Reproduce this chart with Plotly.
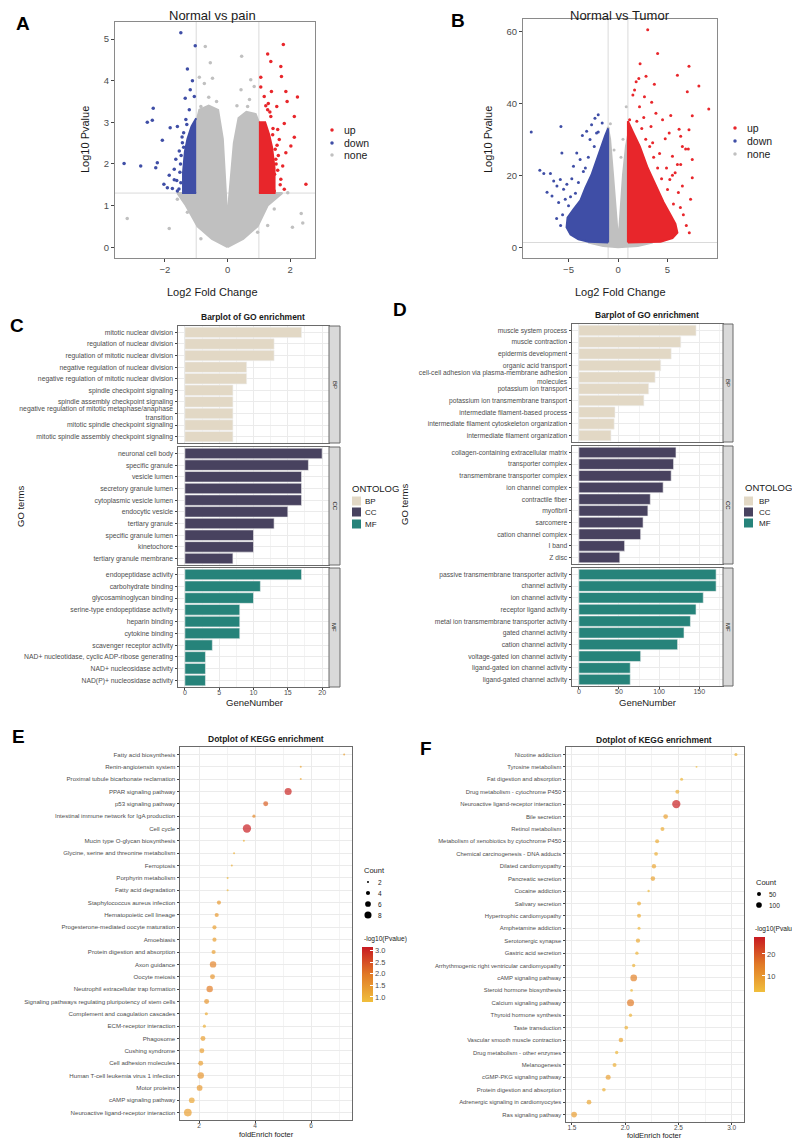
import plotly.graph_objects as go

# page is drawn inside the default 8px body margin, so the figure is 792x1132
# and every position below is given in page pixels
PAD = 8
W, H = 800 - PAD, 1140 - PAD
FONT = "Liberation Sans, Arial, sans-serif"
RED, BLUE, GREY = "#E8262B", "#3F4EA6", "#C0C0C0"
BP_COL, CC_COL, MF_COL = "#E2D8C5", "#48425F", "#26837A"
TICK = "#4D4D4D"
DARK = "#1A1A1A"
SCALE = [[0, "#F0BE3C"], [0.5, "#E17A26"], [1, "#C81A22"]]

# ---------------- panel A : Normal vs pain ----------------
a_none_poly_x = [0, -0.5, -0.96, -1.33, -1.6, -1.0, -1.0, -0.9, -0.6, -0.3, -0.15, -0.05, 0,
                 0.05, 0.2, 0.35, 0.6, 0.9, 1.0, 1.0, 1.75, 1.28, 0.96, 0.5, 0]
a_none_poly_y = [0, 0.2, 0.5, 1.0, 1.3, 1.3, 3.0, 3.3, 3.4, 3.3, 2.6, 1.2, 0.6,
                 1.2, 2.5, 3.1, 3.25, 3.2, 3.0, 1.3, 1.3, 1.0, 0.5, 0.2, 0]
a_up_poly_x = [1.0, 1.5, 1.5, 1.42, 1.33, 1.2, 1.0]
a_up_poly_y = [1.3, 1.3, 1.9, 2.4, 2.7, 3.0, 3.0]
a_down_poly_x = [-1.0, -1.42, -1.42, -1.36, -1.28, -1.15, -1.0]
a_down_poly_y = [1.3, 1.3, 1.8, 2.3, 2.6, 2.9, 3.1]
a_up_x = [1.78, 1.28, 1.38, 1.70, 1.72, 1.06, 1.06, 1.40, 1.86, 2.23, 1.90, 1.57, 1.17, 2.13, 1.81, 1.60,
          2.13, 2.02, 1.65, 1.86, 1.76, 2.50, 1.70, 1.81, 1.49, 1.38, 1.28, 1.54, 1.45, 1.30, 1.62, 1.50,
          1.35, 1.68, 1.22, 1.58, 1.55, 1.60, 1.52, 1.44]
a_up_y = [4.87, 4.64, 4.46, 4.34, 4.10, 4.08, 3.85, 3.74, 3.74, 3.61, 3.50, 3.38, 3.62, 3.14, 2.97, 2.83,
          2.64, 2.43, 2.59, 2.27, 1.95, 1.51, 1.63, 1.39, 1.35, 3.14, 3.30, 2.11, 2.85, 3.45, 2.20, 1.75,
          3.25, 1.50, 3.40, 2.45, 2.00, 1.85, 2.35, 2.70]
a_down_x = [-1.49, -1.03, -1.28, -1.12, -1.19, -1.35, -1.06, -2.37, -2.40, -2.56, -1.83, -1.60, -2.08, -2.24,
            -2.77, -3.30, -2.29, -2.03, -1.92, -1.76, -1.86, -1.70, -1.65, -1.54, -1.44, -1.40, -1.33, -1.49,
            -1.60, -1.22, -1.50, -1.55, -1.62, -1.45, -1.30, -1.70, -1.48, -1.52, -1.40]
a_down_y = [5.15, 4.84, 4.28, 4.00, 3.78, 3.58, 3.62, 3.34, 3.05, 3.00, 2.87, 2.90, 2.57, 2.03,
            1.95, 2.01, 1.91, 1.51, 1.43, 1.41, 1.73, 1.87, 2.11, 2.31, 2.51, 2.75, 3.07, 1.55,
            1.35, 3.30, 2.00, 1.40, 1.60, 2.65, 2.95, 1.62, 2.20, 1.80, 2.40]
a_none_x = [-0.71, -0.55, -0.90, -0.48, -0.74, 0.45, 0.74, 0.43, 0.85, -3.20, -1.86, 2.07, 2.35, 2.40, 1.92,
            1.28, -1.60, -0.85, 0.64, -0.85, 0.96, -1.28, 1.49, -0.60, 0.70, -0.35, 0.30]
a_none_y = [4.82, 4.43, 4.08, 4.06, 3.93, 4.59, 4.02, 3.78, 3.86, 0.69, 0.45, 0.48, 0.81, 0.58, 1.31,
            0.52, 1.15, 3.38, 3.38, 0.20, 0.36, 0.84, 0.92, 3.60, 3.55, 3.50, 3.40]

# ---------------- panel B : Normal vs Tumor ----------------
b_none_poly_x = [-3.0, -1.0, -1.0, -0.8, -0.5, -0.25, -0.08, 0, 0.08, 0.25, 0.5, 0.8, 1.0, 1.0, 3.5, 2.0, 0, -1.5, -3.0]
b_none_poly_y = [1.3, 1.3, 33, 30, 20, 10, 3, 2.5, 3, 10, 20, 28, 31, 1.3, 1.3, 0.3, 0, 0.3, 1.3]
b_up_poly_x = [1.0, 1.0, 1.5, 2.2, 3.0, 3.8, 4.6, 5.3, 5.8, 6.0, 5.5, 4.3, 1.0]
b_up_poly_y = [1.3, 35, 32, 28, 22, 17, 12.5, 9, 6.5, 4, 2.5, 1.5, 1.3]
b_down_poly_x = [-1.0, -1.0, -1.3, -1.7, -2.2, -2.7, -3.3, -3.8, -4.5, -5.1, -5.2, -4.8, -4.0, -3.0, -1.0]
b_down_poly_y = [1.3, 33, 31, 28, 24, 20, 16.5, 13, 10.5, 8.2, 5.5, 3.5, 2.2, 1.5, 1.3]
b_up_x = [3.0, 4.0, 2.23, 7.17, 6.0, 2.83, 2.1, 1.83, 3.67, 8.17, 1.67, 7.0, 1.5, 2.67, 3.4, 9.17, 3.83,
          7.5, 5.33, 4.5, 3.33, 6.17, 7.17, 5.17, 6.33, 2.17, 1.17, 6.83, 7.1, 6.5, 5.5, 7.5, 6.0, 6.33,
          4.77, 7.5, 5.77, 6.5, 7.33, 6.1, 5.23, 4.0, 3.6, 2.8, 4.4, 5.0, 5.6, 6.6, 6.9, 7.2, 2.4, 1.9, 3.2,
          4.2, 3.5, 5.5, 6.3, 4.9, 2.6]
b_up_y = [60.4, 53.8, 51.0, 50.3, 47.8, 47.5, 46.9, 46.0, 45.3, 44.8, 43.7, 43.2, 42.3, 41.8, 40.3, 38.4, 37.2,
          36.5, 36.6, 35.4, 33.5, 32.8, 32.6, 31.7, 30.8, 39.0, 35.4, 27.3, 27.3, 28.0, 25.3, 24.4, 23.0, 23.0,
          30.1, 19.3, 20.7, 17.0, 13.3, 15.2, 18.8, 22, 25, 30, 19, 16, 12, 9, 6, 4, 33, 35, 28,
          26, 29, 20, 11, 22, 36]
b_down_x = [-8.77, -5.77, -5.67, -7.9, -7.5, -6.83, -6.5, -5.83, -7.17, -6.67, -6.17, -5.5, -5.17, -4.67,
            -2.0, -2.33, -2.67, -3.6, -3.17, -2.83, -2.17, -3.83, -4.5, -4.17, -6.0, -5.33, -5.0,
            -3.0, -3.5, -4.0, -4.8, -5.6, -5.8, -2.4, -1.6, -6.2, -3.3, -4.3, -2.0]
b_down_y = [32.0, 33.5, 26.2, 21.4, 20.5, 20.5, 18.4, 18.8, 15.3, 14.2, 17.0, 16.1, 17.5, 19.0,
            36.8, 35.8, 34.0, 31.0, 32.2, 29.9, 31.7, 24.4, 22.5, 26.2, 12.4, 13.3, 11.5,
            25, 21, 18, 14, 9, 6, 28, 34.5, 8, 22, 15, 32]
b_none_x = [0.83, -1.0, -0.77, 0.5, -0.4, 0.3]
b_none_y = [39.0, 33.1, 34.3, 30, 27, 25]

fc_cut = [-1, 1]
p_cut = 1.3

# ---------------- panel C : GO barplot ----------------
c_bp_terms = ["mitotic nuclear division", "regulation of nuclear division", "regulation of mitotic nuclear division",
              "negative regulation of nuclear division", "negative regulation of mitotic nuclear division",
              "spindle checkpoint signaling", "spindle assembly checkpoint signaling",
              "negative regulation of mitotic metaphase/anaphase<br>transition",
              "mitotic spindle checkpoint signaling", "mitotic spindle assembly checkpoint signaling"]
c_bp_vals = [17, 13, 13, 9, 9, 7, 7, 7, 7, 7]
c_cc_terms = ["neuronal cell body", "specific granule", "vesicle lumen", "secretory granule lumen",
              "cytoplasmic vesicle lumen", "endocytic vesicle", "tertiary granule", "specific granule lumen",
              "kinetochore", "tertiary granule membrane"]
c_cc_vals = [20, 18, 17, 17, 17, 15, 13, 10, 10, 7]
c_mf_terms = ["endopeptidase activity", "carbohydrate binding", "glycosaminoglycan binding",
              "serine-type endopeptidase activity", "heparin binding", "cytokine binding",
              "scavenger receptor activity", "NAD+ nucleotidase, cyclic ADP-ribose generating",
              "NAD+ nucleosidase activity", "NAD(P)+ nucleosidase activity"]
c_mf_vals = [17, 11, 10, 8, 8, 8, 4, 3, 3, 3]

# ---------------- panel D : GO barplot ----------------
d_bp_terms = ["muscle system process", "muscle contraction", "epidermis development", "organic acid transport",
              "cell-cell adhesion via plasma-membrane adhesion<br>molecules", "potassium ion transport",
              "potassium ion transmembrane transport", "intermediate filament-based process",
              "intermediate filament cytoskeleton organization", "intermediate filament organization"]
d_bp_vals = [146, 127, 115, 102, 95, 87, 81, 45, 44, 40]
d_cc_terms = ["collagen-containing extracellular matrix", "transporter complex", "transmembrane transporter complex",
              "ion channel complex", "contractile fiber", "myofibril", "sarcomere", "cation channel complex",
              "I band", "Z disc"]
d_cc_vals = [121, 118, 115, 105, 89, 86, 80, 77, 57, 51]
d_mf_terms = ["passive transmembrane transporter activity", "channel activity", "ion channel activity",
              "receptor ligand activity", "metal ion transmembrane transporter activity", "gated channel activity",
              "cation channel activity", "voltage-gated ion channel activity", "ligand-gated ion channel activity",
              "ligand-gated channel activity"]
d_mf_vals = [171, 171, 155, 146, 139, 131, 123, 77, 64, 64]

# ---------------- panel E : KEGG dotplot ----------------
e_terms = ["Fatty acid biosynthesis", "Renin-angiotensin system", "Proximal tubule bicarbonate reclamation",
           "PPAR signaling pathway", "p53 signaling pathway", "Intestinal immune network for IgA production",
           "Cell cycle", "Mucin type O-glycan biosynthesis", "Glycine, serine and threonine metabolism",
           "Ferroptosis", "Porphyrin metabolism", "Fatty acid degradation", "Staphylococcus aureus infection",
           "Hematopoietic cell lineage", "Progesterone-mediated oocyte maturation", "Amoebiasis",
           "Protein digestion and absorption", "Axon guidance", "Oocyte meiosis",
           "Neutrophil extracellular trap formation", "Signaling pathways regulating pluripotency of stem cells",
           "Complement and coagulation cascades", "ECM-receptor interaction", "Phagosome", "Cushing syndrome",
           "Cell adhesion molecules", "Human T-cell leukemia virus 1 infection", "Motor proteins",
           "cAMP signaling pathway", "Neuroactive ligand-receptor interaction"]
e_fold = [7.18, 5.63, 5.63, 5.18, 4.38, 3.96, 3.71, 3.60, 3.25, 3.17, 3.02, 3.02, 2.71, 2.63, 2.55, 2.55,
          2.52, 2.50, 2.48, 2.38, 2.27, 2.26, 2.19, 2.14, 2.10, 2.06, 2.06, 2.02, 1.74, 1.60]
e_count = [2, 2, 2, 8, 5, 3, 10, 2, 2, 2, 2, 2, 4, 4, 4, 4, 4, 7, 5, 7, 5, 3, 3, 5, 5, 5, 7, 6, 6, 9]
e_logp = [1.3, 1.2, 1.2, 3.0, 2.3, 1.7, 3.1, 1.0, 1.0, 1.0, 0.9, 0.9, 1.4, 1.4, 1.3, 1.3, 1.3, 1.8, 1.5,
          1.9, 1.5, 1.1, 1.0, 1.3, 1.3, 1.3, 1.5, 1.4, 1.2, 1.3]
e_count_breaks = [2, 4, 6, 8]
e_logp_ticks = [1.0, 1.5, 2.0, 2.5, 3.0]

# ---------------- panel F : KEGG dotplot ----------------
f_terms = ["Nicotine addiction", "Tyrosine metabolism", "Fat digestion and absorption",
           "Drug metabolism - cytochrome P450", "Neuroactive ligand-receptor interaction", "Bile secretion",
           "Retinol metabolism", "Metabolism of xenobiotics by cytochrome P450",
           "Chemical carcinogenesis - DNA adducts", "Dilated cardiomyopathy", "Pancreatic secretion",
           "Cocaine addiction", "Salivary secretion", "Hypertrophic cardiomyopathy", "Amphetamine addiction",
           "Serotonergic synapse", "Gastric acid secretion", "Arrhythmogenic right ventricular cardiomyopathy",
           "cAMP signaling pathway", "Steroid hormone biosynthesis", "Calcium signaling pathway",
           "Thyroid hormone synthesis", "Taste transduction", "Vascular smooth muscle contraction",
           "Drug metabolism - other enzymes", "Melanogenesis", "cGMP-PKG signaling pathway",
           "Protein digestion and absorption", "Adrenergic signaling in cardiomyocytes", "Ras signaling pathway"]
f_fold = [3.04, 2.67, 2.53, 2.49, 2.48, 2.38, 2.35, 2.30, 2.29, 2.27, 2.26, 2.22, 2.13, 2.13, 2.13, 2.12,
          2.11, 2.08, 2.08, 2.06, 2.05, 2.05, 2.01, 1.96, 1.92, 1.90, 1.84, 1.80, 1.66, 1.52]
f_count = [30, 12, 28, 50, 215, 69, 50, 50, 45, 60, 65, 17, 50, 50, 28, 58, 35, 35, 140, 22, 153, 35, 42,
           65, 35, 50, 78, 42, 70, 100]
f_logp = [4.5, 3.5, 4.0, 5.5, 27, 8, 6, 6, 5.5, 7, 7.5, 3.5, 6, 6, 4, 6.5, 4.5, 4.5, 14, 3.5, 15, 4.5, 5,
          7, 4, 5.5, 8, 5, 7, 9]
f_count_breaks = [50, 100]
f_logp_ticks = [10, 20]


def fx(p):
    return (p - PAD) / W


def fy(p):
    return 1 - (p - PAD) / H


def e_size(c):
    return max(1.8, -3.09 + 3.6 * c ** 0.5)


def f_size(c):
    return max(1.8, 0.566 * c ** 0.5)


fig = go.Figure()


def add_poly(x, y, color, ax):
    fig.add_trace(go.Scatter(x=x, y=y, mode="lines", fill="toself", fillcolor=color,
                             line=dict(color=color, width=2), hoverinfo="skip",
                             xaxis="x" + ax, yaxis="y" + ax))


def add_pts(x, y, color, ax, size):
    fig.add_trace(go.Scatter(x=x, y=y, mode="markers", marker=dict(size=size, color=color, line=dict(width=0)),
                             xaxis="x" + ax, yaxis="y" + ax))


# volcano A (axis suffix "")
add_poly(a_none_poly_x, a_none_poly_y, GREY, "")
add_pts(a_none_x, a_none_y, GREY, "", 3.5)
add_poly(a_up_poly_x, a_up_poly_y, RED, "")
add_pts(a_up_x, a_up_y, RED, "", 3.5)
add_poly(a_down_poly_x, a_down_poly_y, BLUE, "")
add_pts(a_down_x, a_down_y, BLUE, "", 3.5)

# volcano B
add_poly(b_none_poly_x, b_none_poly_y, GREY, "2")
add_pts(b_none_x, b_none_y, GREY, "2", 3)
add_poly(b_up_poly_x, b_up_poly_y, RED, "2")
add_pts(b_up_x, b_up_y, RED, "2", 3)
add_poly(b_down_poly_x, b_down_poly_y, BLUE, "2")
add_pts(b_down_x, b_down_y, BLUE, "2", 3)

for ax in ["", "2"]:
    for v in fc_cut:
        fig.add_shape(type="line", xref="x" + ax, yref="y" + ax + " domain",
                      x0=v, x1=v, y0=0, y1=1, line=dict(color="#DADADA", width=1), layer="below")
    fig.add_shape(type="line", xref="x" + ax + " domain", yref="y" + ax, x0=0, x1=1, y0=p_cut, y1=p_cut,
                  line=dict(color="#DADADA", width=1), layer="below")

# GO bars
bar_sets = [
    (c_bp_terms, c_bp_vals, BP_COL, "3"), (c_cc_terms, c_cc_vals, CC_COL, "4"), (c_mf_terms, c_mf_vals, MF_COL, "5"),
    (d_bp_terms, d_bp_vals, BP_COL, "6"), (d_cc_terms, d_cc_vals, CC_COL, "7"), (d_mf_terms, d_mf_vals, MF_COL, "8"),
]
for terms, vals, col, ax in bar_sets:
    fig.add_trace(go.Bar(x=vals, y=terms, orientation="h", width=0.9,
                         marker=dict(color=col, line=dict(color="#EEEEEE", width=0.6)),
                         xaxis="x" + ax, yaxis="y" + ax))

# KEGG dots
fig.add_trace(go.Scatter(
    x=e_fold, y=e_terms, mode="markers", xaxis="x9", yaxis="y9",
    marker=dict(size=[e_size(c) for c in e_count], color=e_logp, colorscale=SCALE, cmin=0.78, cmax=3.15,
                line=dict(width=0),
                colorbar=dict(x=fx(362), xanchor="left", y=fy(947), yanchor="top", len=55, lenmode="pixels",
                              thickness=11, xpad=0, ypad=0, outlinewidth=0, tickvals=e_logp_ticks,
                              tickformat=".1f", ticks="inside", ticklen=3, tickcolor="white",
                              tickfont=dict(size=7.5, color=TICK, family=FONT)))))
fig.add_trace(go.Scatter(
    x=f_fold, y=f_terms, mode="markers", xaxis="x10", yaxis="y10",
    marker=dict(size=[f_size(c) for c in f_count], color=f_logp, colorscale=SCALE, cmin=2.7, cmax=27.7,
                line=dict(width=0),
                colorbar=dict(x=fx(754), xanchor="left", y=fy(937), yanchor="top", len=55, lenmode="pixels",
                              thickness=11, xpad=0, ypad=0, outlinewidth=0, tickvals=f_logp_ticks,
                              ticks="inside", ticklen=3, tickcolor="white",
                              tickfont=dict(size=7.5, color=TICK, family=FONT)))))


def frame(extra):
    d = dict(showline=True, mirror=True, linecolor="#6A6A6A", linewidth=1, zeroline=False,
             ticks="outside", ticklen=2.5, tickcolor="#444", tickfont=dict(size=7, color=TICK, family=FONT))
    d.update(extra)
    return d


def cat_axis(top, bottom, n, anchor, size, terms):
    return frame(dict(domain=[fy(bottom), fy(top)], anchor=anchor, type="category", categoryorder="array",
                      categoryarray=terms, range=[n - 0.45, -0.55], dtick=1, showgrid=True,
                      gridcolor="#EBEBEB", gridwidth=0.8, tickfont=dict(size=size, color=TICK, family=FONT)))


def num_axis(left, right, rng, dtick, minor, anchor, labels, fmt=None, fsize=7):
    d = frame(dict(domain=[fx(left), fx(right)], anchor=anchor, range=rng, tick0=0, dtick=dtick,
                   showgrid=True, gridcolor="#EBEBEB", gridwidth=0.8,
                   minor=dict(dtick=minor, showgrid=True, gridcolor="#F3F3F3", gridwidth=0.5),
                   showticklabels=labels, ticks="outside" if labels else "", ticklen=2,
                   ticklabelstandoff=-3, tickfont=dict(size=fsize, color=TICK, family=FONT)))
    if fmt:
        d["tickformat"] = fmt
    return d


vol_font = dict(size=9.5, color=TICK, family=FONT)
layout = dict(
    width=W, height=H, margin=dict(l=0, r=0, t=0, b=0), showlegend=False,
    plot_bgcolor="white", paper_bgcolor="white", font=dict(family=FONT, color=DARK),
    bargap=0.1,
    xaxis=frame(dict(domain=[fx(115), fx(315)], range=[-3.59, 2.79], anchor="y", tickvals=[-2, 0, 2],
                     showgrid=False, linecolor="#8A8A8A", tickfont=vol_font, ticklen=3)),
    yaxis=frame(dict(domain=[fy(258), fy(22)], range=[-0.26, 5.41], anchor="x", tickvals=[0, 1, 2, 3, 4, 5],
                     showgrid=False, linecolor="#8A8A8A", tickfont=vol_font, ticklen=3)),
    xaxis2=frame(dict(domain=[fx(523), fx(717)], range=[-9.6, 10.0], anchor="y2", tickvals=[-5, 0, 5],
                      showgrid=False, linecolor="#8A8A8A", tickfont=vol_font, ticklen=3)),
    yaxis2=frame(dict(domain=[fy(258), fy(19)], range=[-3.0, 63.4], anchor="x2", tickvals=[0, 20, 40, 60],
                      showgrid=False, linecolor="#8A8A8A", tickfont=vol_font, ticklen=3)),
    xaxis3=num_axis(178, 329, [-1, 21], 5, 2.5, "y3", False),
    yaxis3=cat_axis(326, 443, 10, "x3", 6.8, c_bp_terms),
    xaxis4=num_axis(178, 329, [-1, 21], 5, 2.5, "y4", False),
    yaxis4=cat_axis(447, 565, 10, "x4", 6.8, c_cc_terms),
    xaxis5=num_axis(178, 329, [-1, 21], 5, 2.5, "y5", True),
    yaxis5=cat_axis(568, 687, 10, "x5", 6.8, c_mf_terms),
    xaxis6=num_axis(572, 723, [-8.55, 179.6], 50, 25, "y6", False),
    yaxis6=cat_axis(324, 442, 10, "x6", 6.7, d_bp_terms),
    xaxis7=num_axis(572, 723, [-8.55, 179.6], 50, 25, "y7", False),
    yaxis7=cat_axis(446, 564, 10, "x7", 6.7, d_cc_terms),
    xaxis8=num_axis(572, 723, [-8.55, 179.6], 50, 25, "y8", True),
    yaxis8=cat_axis(568, 686, 10, "x8", 6.7, d_mf_terms),
    xaxis9=num_axis(180, 352, [1.32, 7.46], 2, 1, "y9", True, fsize=6.5),
    yaxis9=cat_axis(747, 1120, 30, "x9", 6.1, e_terms),
    xaxis10=num_axis(566, 744, [1.444, 3.116], 0.5, 0.25, "y10", True, ".1f", fsize=6.5),
    yaxis10=cat_axis(747, 1122, 30, "x10", 5.9, f_terms),
)
layout["yaxis9"]["range"] = [29.6, -0.6]
layout["yaxis10"]["range"] = [29.6, -0.6]
fig.update_layout(**layout)

anns = []


def label(text, x, y, size, bold=False, angle=0, xanchor="center", color=DARK):
    anns.append(dict(text=("<b>%s</b>" % text) if bold else text, x=fx(x), y=fy(y), xref="paper", yref="paper",
                     showarrow=False, xanchor=xanchor, yanchor="middle", textangle=angle,
                     font=dict(size=size, color=color, family=FONT)))


# panel letters
for t, x, y in [("A", 23, 24), ("B", 458, 21), ("C", 17, 325), ("D", 400, 309), ("E", 18, 736), ("F", 426, 748)]:
    label(t, x, y, 19, bold=True, color="black")

# volcano texts
label("Normal vs pain", 213, 15, 13)
label("Normal vs Tumor", 620, 15, 13)
for cx, ty in [(213, 292), (620, 292)]:
    label("Log2 Fold Change", cx, ty, 11)
label("Log10 Pvalue", 85, 140, 11, angle=-90)
label("Log10 Pvalue", 488, 140, 11, angle=-90)

shapes = []


def dot(cx, cy, d, color):
    r = d / 2
    shapes.append(dict(type="circle", xref="paper", yref="paper", x0=fx(cx - r), x1=fx(cx + r),
                       y0=fy(cy + r), y1=fy(cy - r), fillcolor=color, line=dict(width=0)))


def box(x0, x1, y0, y1, color, line=None):
    shapes.append(dict(type="rect", xref="paper", yref="paper", x0=fx(x0), x1=fx(x1), y0=fy(y1), y1=fy(y0),
                       fillcolor=color, line=line or dict(width=0)))


for lx, ys in [(332, [130, 143, 155]), (735, [128, 141, 154])]:
    for name, col, yy in zip(["up", "down", "none"], [RED, BLUE, GREY], ys):
        dot(lx, yy, 3.5, col)
        label(name, lx + 10, yy, 10.5, xanchor="left", color=DARK)

# GO texts
label("Barplot of GO enrichment", 253, 317, 8.5, bold=True)
label("Barplot of GO enrichment", 647, 315, 8.5, bold=True)
label("GeneNumber", 254, 702, 9.5)
label("GeneNumber", 647, 702, 9.5)
label("GO terms", 20, 507, 9.5, angle=-90)
label("GO terms", 404, 505, 9.5, angle=-90)
label("ONTOLOG", 350, 488, 9.5, xanchor="left")
label("ONTOLOGY", 743, 487, 9.5, xanchor="left")
for kx, tx, ys in [(352, 363, [501, 512, 524]), (744, 757, [501, 512, 523])]:
    for name, col, yy in zip(["BP", "CC", "MF"], [BP_COL, CC_COL, MF_COL], ys):
        box(kx, kx + 9, yy - 4.5, yy + 4.5, col)
        label(name, tx, yy, 8, xanchor="left")

# facet strips
for sx0, sx1, panels in [(329, 340, [(326, 443), (447, 565), (568, 687)]),
                         (723, 733, [(324, 442), (446, 564), (568, 686)])]:
    for name, (t, b) in zip(["BP", "CC", "MF"], panels):
        box(sx0, sx1, t, b, "#D9D9D9", dict(color="#6A6A6A", width=1))
        label(name, (sx0 + sx1) / 2, (t + b) / 2, 6, angle=90)

# KEGG texts
label("Dotplot of KEGG enrichment", 266, 739, 8.5, bold=True)
label("Dotplot of KEGG enrichment", 654, 740, 8.5, bold=True)
label("foldEnrich focter", 266, 1134, 7.5)
label("foldEnrich focter", 654, 1135, 7.5)
label("Count", 362, 870, 7.5, xanchor="left")
for c, yy in zip(e_count_breaks, [882, 893, 904, 915]):
    dot(368, yy, e_size(c), "black")
    label(str(c), 376, yy, 6.5, xanchor="left")
label("Count", 754, 882, 7.5, xanchor="left")
for c, yy in zip(f_count_breaks, [894, 905]):
    dot(759, yy, f_size(c), "black")
    label(str(c), 767, yy, 6.5, xanchor="left")
label("-log10(Pvalue)", 362, 939, 6.6, xanchor="left")
label("-log10(Pvalue)", 753, 929, 6.6, xanchor="left")

fig.update_layout(annotations=anns, shapes=list(fig.layout.shapes) + shapes)
fig.write_html("out.html")
